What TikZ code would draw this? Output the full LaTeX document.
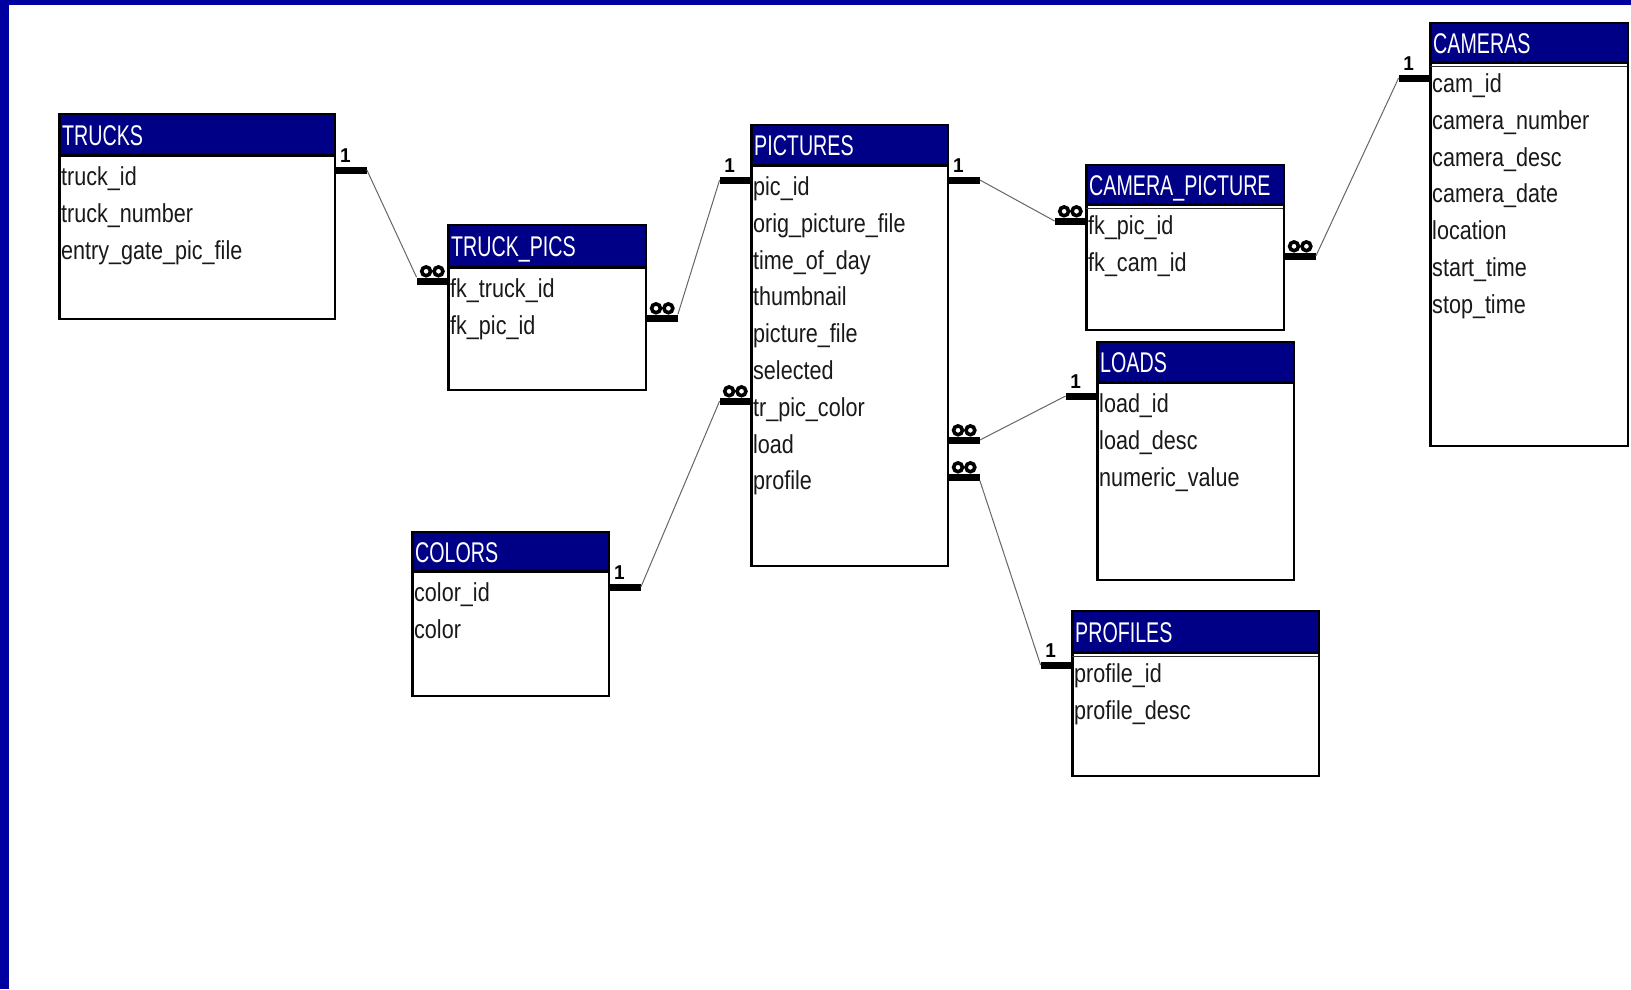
\documentclass[tikz,border=0pt]{standalone}
\usepackage{fontspec}
\setmainfont{Liberation Sans}
\newfontfamily\rowfont[FakeStretch=0.83]{Liberation Sans}
\newfontfamily\titlefont[FakeStretch=0.69]{Liberation Sans}
\newfontfamily\onefont[FakeStretch=0.95]{Liberation Sans}
\usetikzlibrary{calc}
\definecolor{hdrblue}{RGB}{0,0,135}
\definecolor{frameblue}{RGB}{0,0,160}
\newcommand{\dbtable}[7]{%
  \node[thead,minimum width=#4pt,minimum height=#6pt] (#1H) at (#2,#3) {};
  \node[tbody,minimum width=#4pt,minimum height=#5pt] (#1) at (#2,#3) {};
  \draw[hline] (#1H.south west) -- (#1H.south east);
  \draw[lline] (#1.north west) -- (#1.south west);
  \node[ttitle] (#1T) at ($(#1H.west)+(3,11)$) {#7};
}
\newcommand{\dbrows}[2]{%
  \foreach \r [count=\i] in {#2}
    \node[trow] (#1-\i) at ($(#1H.south west)+(2,{30+36.8*(\i-1)})$) {\r};
}
\begin{document}
\begin{tikzpicture}[x=1pt,y=-1pt,
  tbody/.style={draw=black,line width=1.5pt,anchor=north west,inner sep=0pt,rectangle},
  thead/.style={fill=hdrblue,anchor=north west,inner sep=0pt,rectangle},
  ttitle/.style={anchor=base west,inner sep=0pt,text=white,font=\titlefont\fontsize{28.5}{30}\selectfont},
  trow/.style={anchor=base west,inner sep=0pt,text=black!90,font=\rowfont\fontsize{26}{28}\selectfont},
  hline/.style={line width=3pt},
  lline/.style={line width=3pt},
  dline/.style={line width=1pt,draw=black!80},
  bar/.style={rectangle,fill=black,inner sep=0pt,minimum width=31pt,minimum height=7pt},
  onelabel/.style={anchor=base,inner sep=0pt,font=\onefont\bfseries\fontsize{20}{20}\selectfont},
  ring/.style={line width=3.6pt,draw=black},
  conn/.style={draw=black!60,line width=1pt}
]
\useasboundingbox (0,0) rectangle (1631,989);
\fill[white] (0,0) rectangle (1631,989);
\fill[frameblue] (0,0) rectangle (9,989);
\fill[frameblue] (0,0) rectangle (1631,5);

% tables: id, x, y, width, height, header height, title
\dbtable{trucks}{59}{113}{275}{205}{42}{TRUCKS}
\dbrows{trucks}{truck\_id,truck\_number,entry\_gate\_pic\_file}

\dbtable{truckpics}{448}{224}{197}{165}{43}{TRUCK\_PICS}
\dbrows{truckpics}{fk\_truck\_id,fk\_pic\_id}

\dbtable{pictures}{751}{124}{196}{441}{41}{PICTURES}
\dbrows{pictures}{pic\_id,orig\_picture\_file,time\_of\_day,thumbnail,picture\_file,selected,tr\_pic\_color,load,profile}

\dbtable{campic}{1086}{164}{197}{165}{40}{CAMERA\_PICTURE}
\dbrows{campic}{fk\_pic\_id,fk\_cam\_id}
\draw[dline] ($(campicH.south west)+(0,4)$) -- ($(campicH.south east)+(0,4)$);

\dbtable{cameras}{1430}{22}{197}{423}{40}{CAMERAS}
\dbrows{cameras}{cam\_id,camera\_number,camera\_desc,camera\_date,location,start\_time,stop\_time}
\draw[dline] ($(camerasH.south west)+(0,4)$) -- ($(camerasH.south east)+(0,4)$);

\dbtable{loads}{1097}{341}{196}{238}{41}{LOADS}
\dbrows{loads}{load\_id,load\_desc,numeric\_value}

\dbtable{profiles}{1072}{610}{246}{165}{42}{PROFILES}
\dbrows{profiles}{profile\_id,profile\_desc}
\draw[dline] ($(profilesH.south west)+(0,4)$) -- ($(profilesH.south east)+(0,4)$);

\dbtable{colors}{412}{531}{196}{164}{40}{COLORS}
\dbrows{colors}{color\_id,color}

% "one" bars
\node[bar,anchor=west] (o1) at (trucks.east |- 0,170) {};
\node[bar,anchor=east] (o2) at (pictures.west |- 0,180) {};
\node[bar,anchor=west] (o3) at (colors.east |- 0,587) {};
\node[bar,anchor=west] (o4) at (pictures.east |- 0,180) {};
\node[bar,anchor=east] (o5) at (cameras.west |- 0,78) {};
\node[bar,anchor=east] (o6) at (loads.west |- 0,396) {};
\node[bar,anchor=east] (o7) at (profiles.west |- 0,665) {};
\foreach \b in {o1,o2,o3,o4,o5,o6,o7}
  \node[onelabel] (\b l) at ([xshift=10pt,yshift=8pt]\b.west) {1};

% "many" bars
\node[bar,anchor=east] (m1) at (truckpics.west |- 0,281) {};
\node[bar,anchor=west] (m2) at (truckpics.east |- 0,318) {};
\node[bar,anchor=east] (m3) at (pictures.west |- 0,401) {};
\node[bar,anchor=east] (m4) at (campic.west |- 0,221) {};
\node[bar,anchor=west] (m5) at (campic.east |- 0,256) {};
\node[bar,anchor=west] (m6) at (pictures.east |- 0,440) {};
\node[bar,anchor=west] (m7) at (pictures.east |- 0,477) {};
\foreach \m in {m1,m2,m3,m4,m5,m6,m7}
  \draw[ring] ($(\m.north)+(-6.2,-6)$) circle[radius=4.4pt] ($(\m.north)+(6.2,-6)$) circle[radius=4.4pt];

% connectors
\draw[conn] (o1.east) -- (m1.north west);
\draw[conn] (m2.north east) -- (o2.west);
\draw[conn] (o3.east) -- (m3.west);
\draw[conn] (o4.east) -- (m4.west);
\draw[conn] (m5.east) -- (o5.west);
\draw[conn] (m6.east) -- (o6.west);
\draw[conn] (m7.south east) -- (o7.west);
\end{tikzpicture}
\end{document}
